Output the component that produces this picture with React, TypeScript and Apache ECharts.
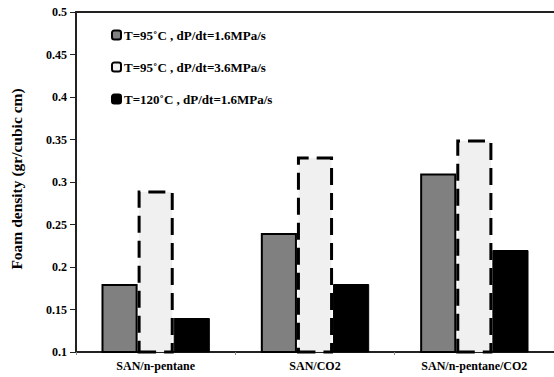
import React, { useEffect, useRef } from "react";
import * as echarts from "echarts";

const categories = ["SAN/n-pentane", "SAN/CO2", "SAN/n-pentane/CO2"];
const seriesNames = [
  "T=95˚C , dP/dt=1.6MPa/s",
  "T=95˚C , dP/dt=3.6MPa/s",
  "T=120˚C , dP/dt=1.6MPa/s",
];
const s95_16 = [0.18, 0.24, 0.31];
const s95_36 = [0.29, 0.33, 0.35];
const s120_16 = [0.14, 0.18, 0.22];
const yMin = 0.1;
const yMax = 0.5;
const yStep = 0.05;

const font = "'Liberation Serif', 'Times New Roman', serif";

export default function App() {
  const ref = useRef<HTMLDivElement>(null);
  useEffect(() => {
    if (!ref.current) return;
    const chart = echarts.init(ref.current, null, { renderer: "svg" });
    chart.setOption({
      animation: false,
      backgroundColor: "#ffffff",
      textStyle: { fontFamily: font },
      grid: {
        left: 74,
        top: 12,
        bottom: 25,
        width: 486,
        show: false,
      },
      legend: {
        orient: "vertical",
        left: 106,
        top: 23,
        itemWidth: 9,
        itemHeight: 9,
        itemGap: 18,
        textStyle: {
          fontFamily: font,
          fontWeight: "bold",
          fontSize: 13,
          lineHeight: 14,
          color: "#000",
          padding: [0, 0, 0, -2],
        },
        data: seriesNames,
      },
      xAxis: [
        {
          type: "category",
          data: categories,
          axisLine: { lineStyle: { color: "#222", width: 2 } },
          axisTick: { show: true, length: 3, lineStyle: { color: "#888" } },
          axisLabel: {
            fontFamily: font,
            fontWeight: "bold",
            fontSize: 12,
            color: "#000",
            margin: 8,
          },
        },
        {
          type: "category",
          data: categories,
          position: "top",
          axisLine: { show: true, lineStyle: { color: "#222", width: 2 } },
          axisTick: { show: false },
          axisLabel: { show: false },
        },
      ],
      yAxis: {
        type: "value",
        min: yMin,
        max: yMax,
        interval: yStep,
        name: "Foam density (gr/cubic cm)",
        nameLocation: "middle",
        nameGap: 52,
        nameTextStyle: {
          fontFamily: font,
          fontWeight: "bold",
          fontSize: 15.5,
          color: "#000",
          padding: [0, 0, 0, 6],
        },
        axisLine: { show: true, lineStyle: { color: "#222", width: 2 } },
        axisTick: { show: true, length: 6, lineStyle: { color: "#222" } },
        splitLine: { show: false },
        axisLabel: {
          fontFamily: font,
          fontWeight: "bold",
          fontSize: 12,
          color: "#000",
          margin: 9,
          formatter: (v: number) => String(parseFloat(v.toFixed(2))),
        },
      },
      series: [
        {
          name: seriesNames[0],
          type: "bar",
          data: s95_16,
          barGap: "0%",
          barCategoryGap: "32%",
          itemStyle: { color: "#808080", borderColor: "#000", borderWidth: 2 },
        },
        {
          name: seriesNames[1],
          type: "bar",
          data: s95_36,
          barGap: "0%",
          barCategoryGap: "32%",
          itemStyle: {
            color: "#f0f0f0",
            borderColor: "#000",
            borderWidth: 3,
            borderType: [17, 8],
          },
        },
        {
          name: seriesNames[2],
          type: "bar",
          data: s120_16,
          barGap: "0%",
          barCategoryGap: "32%",
          itemStyle: { color: "#000", borderColor: "#000", borderWidth: 1 },
        },
      ],
    });
    return () => chart.dispose();
  }, []);
  return <div ref={ref} style={{ width: 554, height: 377, position: "absolute", left: 0, top: 0 }} />;
}
